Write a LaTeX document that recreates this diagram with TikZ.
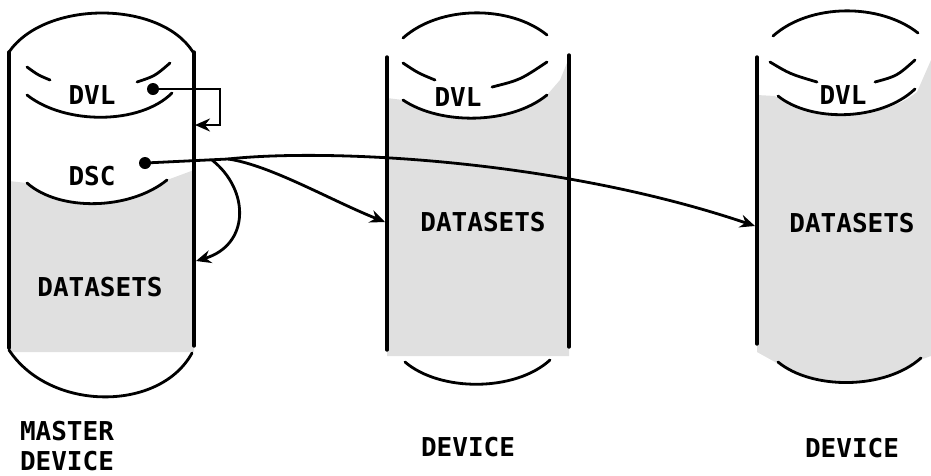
\documentclass[tikz,border=0pt]{standalone}
\usepackage{fontspec}
\newfontfamily\labelfont{DejaVu Sans Mono}
\usetikzlibrary{arrows.meta}
\begin{document}
\begin{tikzpicture}[x=1pt,y=-1pt,
  shadearea/.style={fill=black!12, draw=none},
  side/.style={line width=3.4pt, line cap=round},
  rim/.style={line width=2.8pt, line cap=round},
  conn/.style={line width=2.8pt, -{Stealth[length=15pt,width=13pt,inset=5pt]}},
  wire/.style={line width=2.8pt},
  lbl/.style={font=\labelfont\bfseries\fontsize{26}{26}\selectfont, inner sep=0pt},
  captext/.style={font=\labelfont\bfseries\fontsize{26}{26}\selectfont, inner sep=0pt},
  dot/.style={circle, fill=black, inner sep=0pt, minimum size=12pt}]
\useasboundingbox (0,0) rectangle (931,475);
\clip (0,0) rectangle (931,475);

% ---------- shading ----------
\fill[shadearea] (9,181) -- (27,183) .. controls (60,212) and (130,210) .. (167,180)
   -- (194,170) -- (194,352) -- (9,352) -- cycle;
\fill[shadearea] (387,98) -- (403,100) .. controls (440,125) and (510,125) .. (547,95)
   -- (560,80) -- (569,58) -- (569,356) -- (387,356) -- cycle;
\fill[shadearea] (757,95) -- (775,96) .. controls (810,122) and (880,122) .. (917,92)
   -- (931,60) -- (931,356) -- (920,360) .. controls (885,390) and (810,390) .. (775,362)
   -- (757,352) -- cycle;

% ---------- master device ----------
\draw[side] (9,52) -- (9,348);
\draw[side] (194,52) -- (194,346);
\draw[rim] (9,52) .. controls (45,0) and (160,0) .. (193,52);
\draw[rim] (27,67) .. controls (38,75) .. (50,80);
\draw[rim] (137,82) .. controls (155,76) .. (170,63);
\draw[rim] (27,95) .. controls (65,125) and (140,125) .. (172,93);
\draw[rim] (27,183) .. controls (60,212) and (130,210) .. (167,180);
\draw[rim] (9,350) .. controls (50,412) and (160,412) .. (192,353);

% ---------- device 1 ----------
\draw[side] (387,57) -- (387,350);
\draw[side] (569,55) -- (569,347);
\draw[rim] (403,38) .. controls (440,5) and (510,5) .. (547,35);
\draw[rim] (403,63) .. controls (418,73) .. (435,80);
\draw[rim] (492,87) .. controls (520,80) .. (547,62);
\draw[rim] (403,100) .. controls (440,125) and (510,125) .. (547,95);
\draw[rim] (405,362) .. controls (440,392) and (515,392) .. (550,360);

% ---------- device 3 ----------
\draw[side] (757,57) -- (757,344);
\draw[rim] (773,36) .. controls (810,3) and (880,3) .. (918,33);
\draw[rim] (770,62) .. controls (790,74) .. (817,82);
\draw[rim] (875,82) .. controls (897,76) .. (915,60);
\draw[rim] (778,96) .. controls (810,122) and (880,122) .. (915,89);
\draw[rim] (778,362) .. controls (812,390) and (885,390) .. (921,358);

% ---------- labels ----------
\node[lbl] (mdvl) at (92,95) {DVL};
\node[lbl] (mdsc) at (92,176) {DSC};
\node[lbl] (mdata) at (100,287) {DATASETS};
\node[lbl] (d1dvl) at (458,97) {DVL};
\node[lbl] (d1data) at (483,222) {DATASETS};
\node[lbl] (d3dvl) at (843,95) {DVL};
\node[lbl] (d3data) at (852,223) {DATASETS};
\node[captext] (mcap1) at (67,431) {MASTER};
\node[captext] (mcap2) at (67,461) {DEVICE};
\node[captext] (d1cap) at (468,447) {DEVICE};
\node[captext] (d3cap) at (852,448) {DEVICE};

% ---------- connectors ----------
\node[dot] (dvl) at (153,89) {};
\node[dot] (dsc) at (145,163) {};
\coordinate (dvlc) at (220,89);
\coordinate (mA) at (195,125);
\coordinate (j1) at (212,160);
\coordinate (j2) at (228,159);
\coordinate (mC) at (196,261);
\coordinate (d1A) at (385,222);
\coordinate (d3A) at (755,226);

\draw[conn] (dvl.center) -- (dvlc) |- (mA);
\draw[wire] (dsc.center) -- (j2);
\draw[conn] (j1) .. controls (250,190) and (250,245) .. (mC);
\draw[conn] (j2) .. controls (270,165) and (330,200) .. (d1A);
\draw[conn] (j2) .. controls (330,148) and (560,160) .. (d3A);
\end{tikzpicture}
\end{document}
